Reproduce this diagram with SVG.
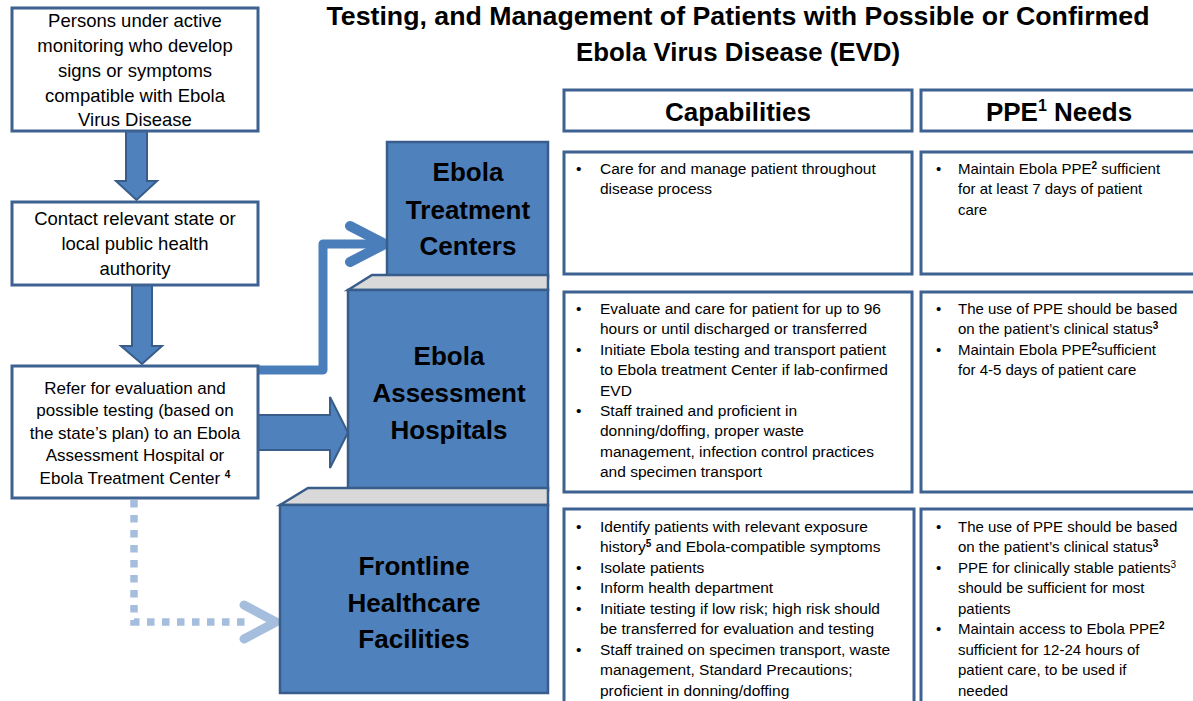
<svg xmlns="http://www.w3.org/2000/svg" width="1193" height="701" viewBox="0 0 1193 701">
<style>
.box{fill:#fff;stroke:#3d6291;stroke-width:3}
.blk{fill:#4f81bd;stroke:#385d8a;stroke-width:2.5}
.top{fill:#d9d9d9;stroke:#385d8a;stroke-width:2.5}
.t{font-family:"Liberation Sans",Arial,sans-serif;fill:#000}
.lt{font-size:18.5px;text-anchor:middle}
.lt3{font-size:17px;text-anchor:middle}
.bt{font-size:26px;font-weight:bold;text-anchor:middle}
.hd{font-size:26px;font-weight:bold;text-anchor:middle}
.tt{font-size:26px;font-weight:bold;text-anchor:middle}
.ct{font-size:15.5px}
.pt{font-size:15px}
.sup{font-size:10px;font-weight:bold}
.supn{font-size:10px}
.barrow{fill:#4f81bd;stroke:#385d8a;stroke-width:2}
</style>

<g id="title">
<text class="t tt" x="738" y="25" textLength="823" lengthAdjust="spacingAndGlyphs">Testing, and Management of Patients with Possible or Confirmed</text>
<text class="t tt" x="738" y="61" textLength="324" lengthAdjust="spacingAndGlyphs">Ebola Virus Disease (EVD)</text>
</g>

<g id="connectors">
<polygon class="barrow" points="126,131 147,131 147,181 157,181 136.5,200 116,181 126,181"/>
<polygon class="barrow" points="132,285 152,285 152,346 162,346 142,364 121,346 132,346"/>
<polyline points="258,370 323,370 323,244 378,244" fill="none" stroke="#4a7ebb" stroke-width="9" stroke-linejoin="round"/>
<polyline points="350,226 385,244 350,262" fill="none" stroke="#4a7ebb" stroke-width="10" stroke-linecap="round" stroke-linejoin="miter"/>
<polygon class="barrow" points="258,415 330,415 330,397 348,432.5 330,468 330,450 258,450"/>
<polyline points="134,500 134,622 250,622" fill="none" stroke="#a5bedd" stroke-width="7.5" stroke-dasharray="7.5 7.5"/>
<polyline points="244,605 276,622 244,639" fill="none" stroke="#a5bedd" stroke-width="9" stroke-linecap="round" stroke-linejoin="miter"/>
</g>

<g id="box-persons">
<rect class="box" x="12" y="8" width="246" height="123"/>
<text class="t lt" x="135" y="27">Persons under active</text>
<text class="t lt" x="135" y="52">monitoring who develop</text>
<text class="t lt" x="135" y="77">signs or symptoms</text>
<text class="t lt" x="135" y="102">compatible with Ebola</text>
<text class="t lt" x="135" y="126">Virus Disease</text>
</g>

<g id="box-contact">
<rect class="box" x="12" y="202" width="246" height="83"/>
<text class="t lt" x="135" y="225">Contact relevant state or</text>
<text class="t lt" x="135" y="250">local public health</text>
<text class="t lt" x="135" y="275">authority</text>
</g>

<g id="box-refer">
<rect class="box" x="12" y="366" width="246" height="132"/>
<text class="t lt3" x="135" y="394">Refer for evaluation and</text>
<text class="t lt3" x="135" y="416">possible testing (based on</text>
<text class="t lt3" x="135" y="439">the state’s plan) to an Ebola</text>
<text class="t lt3" x="135" y="461">Assessment Hospital or</text>
<text class="t lt3" x="135" y="484">Ebola Treatment Center <tspan class="sup" dy="-6">4</tspan></text>
</g>

<g id="etc">
<rect class="blk" x="387" y="142" width="161" height="136"/>
<text class="t bt" x="468" y="181">Ebola</text>
<text class="t bt" x="468" y="219">Treatment</text>
<text class="t bt" x="468" y="255">Centers</text>
</g>

<g id="eah">
<polygon class="top" points="348,290 372,275 548,275 548,290"/>
<rect class="blk" x="348" y="290" width="200" height="200"/>
<text class="t bt" x="449" y="365">Ebola</text>
<text class="t bt" x="449" y="402">Assessment</text>
<text class="t bt" x="449" y="439">Hospitals</text>
</g>

<g id="fhf">
<polygon class="top" points="280,505 308,488 548,488 548,505"/>
<rect class="blk" x="280" y="505" width="268" height="188"/>
<text class="t bt" x="414" y="575">Frontline</text>
<text class="t bt" x="414" y="612">Healthcare</text>
<text class="t bt" x="414" y="648">Facilities</text>
</g>

<g id="hdr-cap">
<rect class="box" x="564" y="90" width="348" height="41"/>
<text class="t hd" x="738" y="121">Capabilities</text>
</g>
<g id="hdr-ppe">
<rect class="box" x="921" y="90" width="290" height="41"/>
<text class="t hd" x="1059" y="121">PPE<tspan font-size="16" dy="-10">1</tspan><tspan dy="10"> Needs</tspan></text>
</g>

<g id="cap-etc">
<rect class="box" x="564" y="152" width="348" height="122"/>
<text class="t ct" x="576" y="174">•</text>
<text class="t ct" x="600" y="174">Care for and manage patient throughout</text>
<text class="t ct" x="600" y="194">disease process</text>
</g>
<g id="ppe-etc">
<rect class="box" x="921" y="152" width="290" height="122"/>
<text class="t pt" x="936" y="174">•</text>
<text class="t pt" x="958" y="174">Maintain Ebola PPE<tspan class="sup" dy="-5">2</tspan><tspan dy="5"> sufficient</tspan></text>
<text class="t pt" x="958" y="194">for at least 7 days of patient</text>
<text class="t pt" x="958" y="215">care</text>
</g>

<g id="cap-eah">
<rect class="box" x="564" y="292" width="348" height="200"/>
<text class="t ct" x="576" y="314">•</text>
<text class="t ct" x="600" y="314">Evaluate and care for patient for up to 96</text>
<text class="t ct" x="600" y="334">hours or until discharged or transferred</text>
<text class="t ct" x="576" y="355">•</text>
<text class="t ct" x="600" y="355">Initiate Ebola testing and transport patient</text>
<text class="t ct" x="600" y="375">to Ebola treatment Center if lab-confirmed</text>
<text class="t ct" x="600" y="396">EVD</text>
<text class="t ct" x="576" y="416">•</text>
<text class="t ct" x="600" y="416">Staff trained and proficient in</text>
<text class="t ct" x="600" y="436">donning/doffing, proper waste</text>
<text class="t ct" x="600" y="457">management, infection control practices</text>
<text class="t ct" x="600" y="477">and specimen transport</text>
</g>
<g id="ppe-eah">
<rect class="box" x="921" y="292" width="290" height="200"/>
<text class="t pt" x="936" y="314">•</text>
<text class="t pt" x="958" y="314">The use of PPE should be based</text>
<text class="t pt" x="958" y="334">on the patient’s clinical status<tspan class="sup" dy="-5">3</tspan></text>
<text class="t pt" x="936" y="355">•</text>
<text class="t pt" x="958" y="355">Maintain Ebola PPE<tspan class="sup" dy="-5">2</tspan><tspan dy="5">sufficient</tspan></text>
<text class="t pt" x="958" y="375">for 4-5 days of patient care</text>
</g>

<g id="cap-fhf">
<rect class="box" x="564" y="509" width="350" height="220"/>
<text class="t ct" x="576" y="532">•</text>
<text class="t ct" x="600" y="532">Identify patients with relevant exposure</text>
<text class="t ct" x="600" y="552">history<tspan class="sup" dy="-5">5</tspan><tspan dy="5"> and Ebola-compatible symptoms</tspan></text>
<text class="t ct" x="576" y="573">•</text>
<text class="t ct" x="600" y="573">Isolate patients</text>
<text class="t ct" x="576" y="593">•</text>
<text class="t ct" x="600" y="593">Inform health department</text>
<text class="t ct" x="576" y="614">•</text>
<text class="t ct" x="600" y="614">Initiate testing if low risk; high risk should</text>
<text class="t ct" x="600" y="634">be transferred for evaluation and testing</text>
<text class="t ct" x="576" y="655">•</text>
<text class="t ct" x="600" y="655">Staff trained on specimen transport, waste</text>
<text class="t ct" x="600" y="675">management, Standard Precautions;</text>
<text class="t ct" x="600" y="696">proficient in donning/doffing</text>
</g>
<g id="ppe-fhf">
<rect class="box" x="921" y="509" width="290" height="220"/>
<text class="t pt" x="936" y="532">•</text>
<text class="t pt" x="958" y="532">The use of PPE should be based</text>
<text class="t pt" x="958" y="552">on the patient’s clinical status<tspan class="sup" dy="-5">3</tspan></text>
<text class="t pt" x="936" y="573">•</text>
<text class="t pt" x="958" y="573">PPE for clinically stable patients<tspan class="supn" dy="-5">3</tspan></text>
<text class="t pt" x="958" y="593">should be sufficient for most</text>
<text class="t pt" x="958" y="614">patients</text>
<text class="t pt" x="936" y="634">•</text>
<text class="t pt" x="958" y="634">Maintain access to Ebola PPE<tspan class="sup" dy="-5">2</tspan></text>
<text class="t pt" x="958" y="655">sufficient for 12-24 hours of</text>
<text class="t pt" x="958" y="675">patient care, to be used if</text>
<text class="t pt" x="958" y="696">needed</text>
</g>
</svg>
